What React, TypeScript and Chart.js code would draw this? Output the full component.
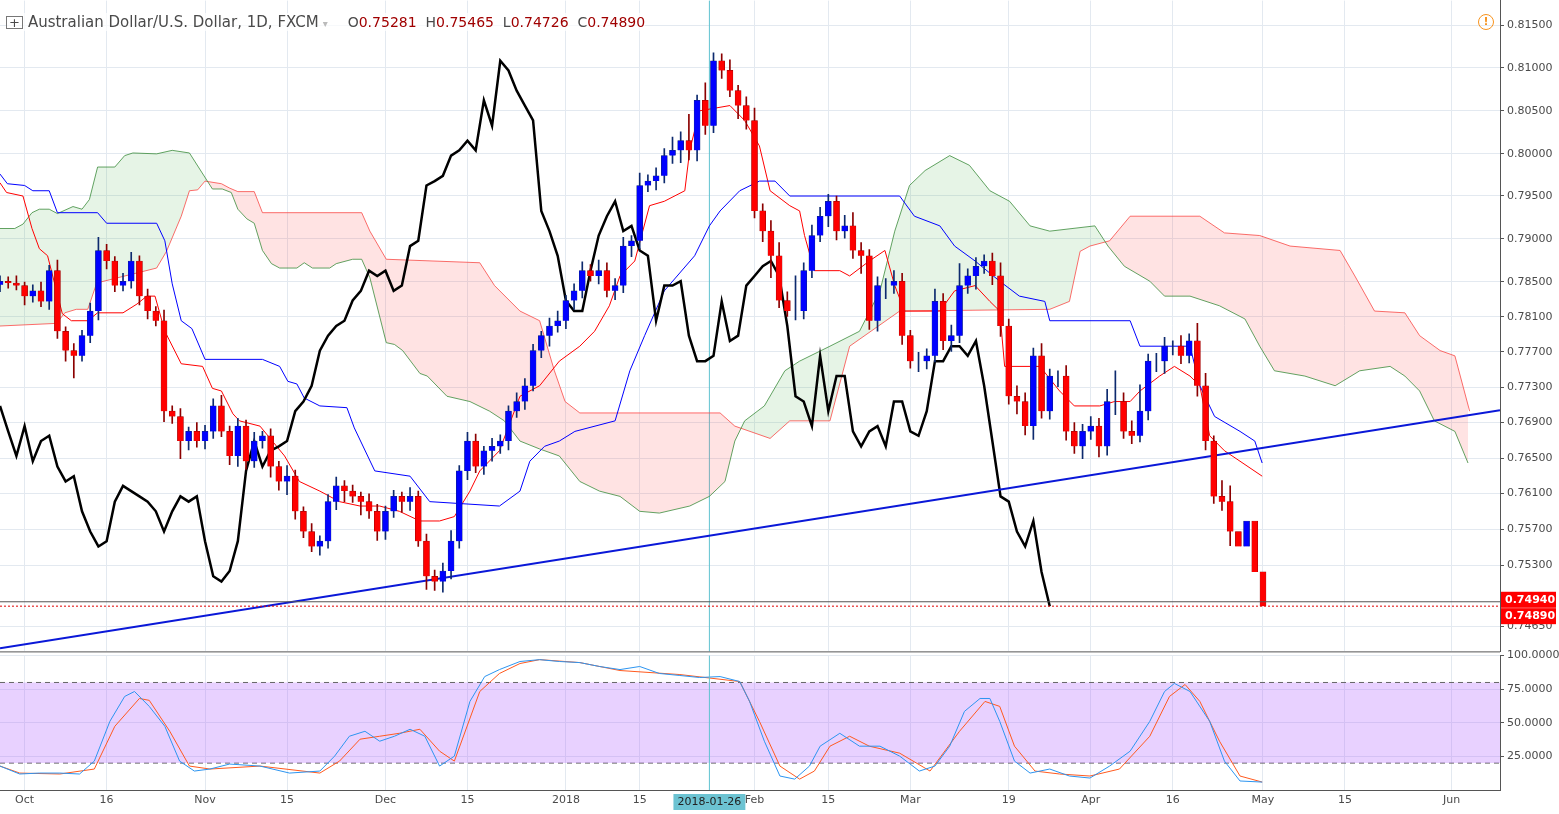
import React, { useEffect, useRef } from "react";
import { Chart, registerables } from "chart.js";
Chart.register(...registerables);

// ---- data (prices in 1e-4 units) ----
const firstBar = -3;
const firstOpen = 7855;
const closes = [7859,7857,7854,7842,7848,7836,7871,7802,7780,7774,7797,7825,7894,7882,7854,7859,7882,7842,7825,7814,7711,7705,7677,7688,7677,7688,7717,7688,7660,7694,7654,7677,7683,7648,7631,7637,7597,7574,7557,7563,7608,7626,7620,7614,7608,7597,7574,7597,7614,7608,7614,7563,7523,7517,7529,7563,7643,7677,7648,7666,7671,7677,7711,7722,7740,7780,7797,7808,7814,7837,7848,7871,7865,7871,7848,7854,7899,7905,7968,7973,7979,8002,8008,8019,8008,8065,8036,8110,8099,8076,8059,8042,7939,7916,7888,7837,7825,7825,7871,7911,7933,7950,7916,7922,7894,7888,7814,7854,7854,7859,7797,7768,7768,7774,7836,7791,7797,7854,7865,7876,7882,7865,7808,7728,7722,7694,7774,7711,7751,7751,7688,7671,7688,7694,7671,7722,7722,7688,7683,7711,7768,7768,7785,7785,7774,7791,7740,7677,7614,7608,7574,7557,7586,7528,7489];
const wickUp = [6,5,8,4,7,10,6,12,5,8,6,9,15,7,5,9,10,6,8,5,12,6,9,5,10,7,8,12,6,9,7,10,5,8,6,12,7,5,9,6,8,10,6,7,5,9,8,6,7,5,10,6,8,7,9,12,6,10,8,5,9,7,6,10,8,7,5,9,11,6,8,10,7,12,9,8,10,6,14,7,9,8,15,10,30,6,20,9,8,12,6,10,14,8,12,15,10,40,9,12,10,8,6,12,15,9,7,10,8,12,9,6,10,8,14,9,12,25,8,10,7,9,15,8,12,10,9,14,8,6,12,10,8,11,9,14,35,10,12,30,8,9,10,6,12,8,20,14,6,18,18];
const wickDn = [8,6,5,10,7,6,9,8,12,25,6,8,10,9,7,6,8,10,9,6,12,8,20,10,7,9,8,6,10,12,9,7,8,12,10,15,9,7,6,10,8,9,12,7,15,8,10,9,7,12,10,6,15,10,12,9,8,10,7,9,12,8,10,7,9,6,8,12,7,9,10,8,6,9,7,10,8,12,9,7,10,8,9,14,11,12,10,8,9,7,15,10,8,12,25,8,6,10,9,8,7,12,10,8,9,20,10,12,15,9,10,8,12,9,7,10,12,8,9,15,8,10,12,9,14,10,15,8,9,12,10,8,14,9,12,10,15,8,9,7,10,12,14,10,9,8,12,10,8,10,16];

const tenkanPts = [[-3,7971],[-2.2,7960],[-0.2,7956],[0.9,7919],[1.8,7896],[2.8,7888],[4.6,7822],[5.7,7814],[7.7,7814],[8.9,7823],[12.0,7823],[13.7,7833],[14.9,7842],[15.9,7842],[17.1,7802],[19.1,7765],[21.7,7762],[22.9,7737],[24.0,7734],[25.4,7708],[26.2,7700],[28.7,7694],[31.7,7660],[33.5,7631],[36.0,7620],[38.4,7608],[40.9,7603],[43.3,7603],[45.7,7597],[48.2,7586],[50.6,7586],[52.4,7591],[54.3,7620],[55.5,7643],[57.9,7666],[60.4,7728],[62.8,7740],[65.2,7768],[67.7,7785],[69.5,7802],[71.3,7831],[72.6,7865],[74.4,7882],[76.2,7945],[78.0,7950],[80.5,7962],[81.1,8008],[82.3,8053],[86.0,8059],[87.8,8042],[89.6,8013],[90.9,7962],[93.3,7945],[94.5,7939],[95.1,7911],[96.3,7871],[99.4,7871],[100.6,7865],[103.0,7882],[104.9,7894],[106.1,7854],[107.3,7825],[111.6,7825],[113.4,7848],[115.9,7854],[117.7,7836],[118.9,7825],[119.5,7762],[123.8,7762],[126.2,7734],[128.0,7717],[131.1,7717],[132.9,7722],[134.8,7722],[136.0,7734],[138.4,7751],[140.2,7762],[142.1,7751],[143.3,7740],[144.5,7683],[146.3,7666],[150.9,7637]];
const kijunPts = [[-3,7981],[-2.1,7970],[0,7968],[1.0,7962],[3.0,7962],[4.0,7937],[8.9,7937],[10.0,7925],[16.1,7925],[17.1,7905],[18.0,7856],[19.1,7814],[20.4,7805],[22.0,7770],[29.0,7770],[31.1,7762],[32.1,7745],[33.2,7742],[34.1,7726],[36.0,7717],[39.3,7715],[40.2,7692],[42.7,7643],[47.0,7637],[49.4,7608],[57.9,7603],[60.4,7620],[61.6,7654],[63.4,7671],[65.2,7677],[67.1,7688],[72.0,7700],[73.8,7757],[75.6,7797],[78.0,7848],[81.7,7888],[83.5,7922],[84.8,7939],[87.2,7962],[89.6,7973],[91.5,7973],[93.3,7956],[106.7,7956],[108.5,7933],[111.6,7922],[113.4,7899],[115.9,7882],[118.9,7859],[121.3,7842],[124.4,7836],[125.0,7814],[134.8,7814],[136.0,7785],[142.1,7785],[143.3,7740],[145.1,7705],[148.2,7688],[150.0,7677],[150.9,7652]];
const spanAPts = [[-3,7919],[-1.2,7919],[-0.2,7924],[0.9,7937],[1.8,7941],[3.0,7941],[4.0,7936],[5.9,7944],[7.0,7941],[7.9,7952],[8.9,7989],[11.0,7989],[12.2,8002],[13.2,8005],[16.1,8004],[18.0,8008],[20.1,8005],[22.9,7964],[24.1,7964],[25.2,7960],[26.0,7941],[27.1,7930],[28.0,7925],[29.0,7894],[30.1,7879],[31.1,7874],[33.2,7874],[34.1,7880],[35.1,7874],[37.2,7874],[38.0,7879],[40.0,7884],[41.1,7884],[42.1,7863],[44.1,7789],[45.1,7787],[46.1,7780],[48.2,7754],[49.1,7751],[51.5,7728],[54.3,7722],[56.7,7711],[58.5,7700],[60.4,7677],[62.8,7668],[65.2,7660],[67.7,7631],[70.1,7620],[72.6,7614],[75.0,7597],[77.4,7595],[81.1,7603],[83.5,7614],[85.4,7631],[86.6,7677],[87.8,7700],[90.2,7717],[92.7,7757],[94.5,7768],[98.2,7785],[101.8,7802],[104.3,7848],[106.1,7916],[107.9,7968],[109.8,7985],[112.8,8002],[115.2,7991],[117.7,7962],[120.1,7950],[122.6,7922],[125.0,7916],[130.5,7922],[132.1,7899],[134.1,7876],[137.2,7859],[139.0,7842],[142.1,7842],[145.7,7831],[148.8,7816],[150.6,7785],[152.4,7757],[156.1,7751],[159.8,7740],[162.8,7757],[166.5,7762],[168.3,7751],[170.1,7734],[171.9,7700],[174.4,7688],[176.0,7652]];
const spanBPts = [[-3,7808],[3.9,7811],[4.9,7823],[6.3,7827],[7.7,7827],[8.8,7857],[16.1,7874],[17.3,7893],[19.1,7933],[20.1,7962],[21.1,7963],[22.0,7973],[24.0,7970],[25.0,7965],[26.0,7961],[28.0,7961],[29.0,7937],[41.1,7937],[42.1,7916],[44.1,7884],[55.5,7880],[57.3,7854],[60.4,7825],[62.8,7814],[64.6,7757],[65.9,7722],[67.7,7709],[84.8,7709],[86.6,7694],[90.9,7680],[93.3,7700],[98.2,7700],[100.6,7785],[106.7,7825],[125.0,7827],[127.4,7836],[128.7,7893],[129.9,7899],[132.3,7905],[134.8,7933],[143.3,7933],[146.3,7914],[150.6,7911],[154.3,7899],[160.4,7894],[162.2,7865],[164.6,7825],[168.3,7823],[170.1,7797],[172.6,7780],[174.4,7774],[176.2,7711]];
const chikouShift = 26;
const trendPts = [[-3,7441],[179.9,7712]];
const stochK = [[-3,17.8],[-0.6,11.9],[1.8,12.6],[4.3,12.6],[6.7,11.9],[8.5,21.5],[10.4,51.1],[12.2,69.6],[13.4,73.3],[15.2,62.2],[17.1,47.4],[18.9,21.5],[20.7,14.1],[22.6,15.6],[25,19.3],[28.7,17.8],[32.3,12.6],[36,14.1],[37.8,25.2],[39.6,40],[41.5,43.7],[43.3,36.3],[45.1,40],[47,45.2],[48.8,40],[50.6,17.8],[52.4,25.2],[54.3,65.9],[56.1,84.4],[57.9,89.6],[60.4,95.6],[62.8,97],[65.2,95.6],[67.7,94.8],[70.1,91.9],[72.6,89.6],[75,91.9],[77.4,86.7],[79.9,85.2],[82.3,83.7],[84.8,84.4],[87.2,80.7],[88.4,65.9],[90.2,36.3],[92.1,10.4],[93.9,8.1],[95.7,17.8],[97,32.6],[99.4,42.2],[101.8,32.6],[104.3,32.6],[106.7,25.2],[109.1,14.1],[111,17.8],[112.8,32.6],[114.6,58.5],[116.5,68.1],[117.7,68.1],[118.9,51.1],[120.7,21.5],[122.6,12.6],[125,15.6],[127.4,10.4],[129.9,8.9],[132.3,17.8],[134.8,28.9],[137.2,51.1],[139,73.3],[140.2,79.3],[142.1,73.3],[144.5,51.1],[146.3,21.5],[148.2,6.7],[150.9,5.9]];
const stochD = [[-3,17.8],[-0.6,12.6],[4.3,11.9],[8.5,15.6],[11,47.4],[14,68.1],[15.2,66.7],[17.7,43.7],[20.1,17.8],[22.6,15.6],[28.7,17.8],[36,12.6],[38.4,21.5],[40.9,37.8],[43.3,40],[45.7,42.2],[48.2,45.2],[50.6,28.9],[52.4,21.5],[55.5,73.3],[57.9,86.7],[60.4,94.1],[62.8,97],[67.7,94.8],[72.6,88.9],[79.9,85.9],[87.2,80.7],[89.6,51.1],[92.1,17.8],[94.5,8.1],[96.3,14.1],[98.2,32.6],[100.6,40],[103,32.6],[106.7,27.4],[110.4,14.1],[114,43.7],[117.1,65.9],[118.9,62.2],[120.7,32.6],[123.2,14.1],[126.2,11.9],[129.9,10.4],[133.5,15.6],[137.2,40],[139.6,69.6],[141.5,78.5],[143.3,65.9],[145.7,36.3],[148.2,10.4],[150.9,5.9]];

const priceTickVals = [0.815,0.81021,0.80531,0.80041,0.79562,0.79072,0.78582,0.78183,0.77784,0.77385,0.76986,0.76576,0.76177,0.75767,0.75356,0.74661];
const priceTickLabels = ["0.81500","0.81000","0.80500","0.80000","0.79500","0.79000","0.78500","0.78100","0.77700","0.77300","0.76900","0.76500","0.76100","0.75700","0.75300","0.74650"];
const dateTickBars = [0,10,22,32,44,54,66,75,89,98,108,120,130,140,151,161,174];
const dateTickLabels = ["Oct","16","Nov","15","Dec","15","2018","15","Feb","15","Mar","19","Apr","16","May","15","Jun"];
const stochTicks = [25,50,75,100];
const bandHi = 80, bandLo = 20;
const lastPrice = 0.7489, linePrice = 0.7494;
const crossBar = 83.5, crossLabel = "2018-01-26";

const X_MIN = -3, X_MAX = 179.9;
const Y_MIN = 0.74375, Y_MAX = 0.81785;
const FONT = "DejaVu Sans";
const GRID = "#e3e9f0";

const pts = (a: number[][], k = 1e4) => a.map(([x, y]) => ({ x, y: y / k }));

export default function App() {
  const mainRef = useRef<HTMLCanvasElement>(null);
  const subRef = useRef<HTMLCanvasElement>(null);
  useEffect(() => {
    document.body.style.margin = "0";
    const bodies: any[] = [], wicks: any[] = [], colors: string[] = [], wcolors: string[] = [];
    closes.forEach((c, i) => {
      const o = i === 0 ? firstOpen : closes[i - 1];
      const x = firstBar + i;
      bodies.push({ x, y: [o / 1e4, c / 1e4] });
      wicks.push({ x, y: [(Math.min(o, c) - wickDn[i]) / 1e4, (Math.max(o, c) + wickUp[i]) / 1e4] });
      const up = c >= o;
      colors.push(up ? "#0000ff" : "#ff0000");
      wcolors.push(up ? "#0d2a6e" : "#8b0000");
    });
    const chikou = closes.map((c, i) => ({ x: firstBar + i - chikouShift, y: c / 1e4 })).filter(p => p.x >= X_MIN);
    const fitY = (s: any) => { s.width = 59; };
    const xTicks = (s: any) => { s.ticks = dateTickBars.map(v => ({ value: v })); };

    const mainPlugin = {
      id: "mainExtras",
      beforeDatasetsDraw(ch: any) {
        const { ctx, chartArea: a, scales } = ch;
        const x = scales.x.getPixelForValue(crossBar);
        ctx.save(); ctx.strokeStyle = "#5fc2d0"; ctx.lineWidth = 1;
        ctx.beginPath(); ctx.moveTo(x, a.top); ctx.lineTo(x, a.bottom); ctx.stroke(); ctx.restore();
      },
      afterDatasetsDraw(ch: any) {
        const { ctx, chartArea: a, scales } = ch;
        const y1 = scales.y.getPixelForValue(linePrice), y2 = scales.y.getPixelForValue(lastPrice);
        ctx.save();
        ctx.strokeStyle = "#555"; ctx.lineWidth = 1;
        ctx.beginPath(); ctx.moveTo(a.left, y1); ctx.lineTo(a.right, y1); ctx.stroke();
        ctx.strokeStyle = "#e00000"; ctx.setLineDash([2, 2]);
        ctx.beginPath(); ctx.moveTo(a.left, y2); ctx.lineTo(a.right, y2); ctx.stroke();
        ctx.restore();
      },
      afterDraw(ch: any) {
        const { ctx, chartArea: a, scales } = ch;
        ctx.save();
        ctx.font = `bold 11px ${FONT}`; ctx.textBaseline = "middle";
        [[linePrice, "0.74940"], [lastPrice, "0.74890"]].forEach(([p, t]: any, k) => {
          const y = scales.y.getPixelForValue(p) + (k === 0 ? -2 : 10);
          ctx.fillStyle = "#ff0000"; ctx.fillRect(a.right + 1, y - 8, 55, 16);
          ctx.fillStyle = "#fff"; ctx.fillText(t, a.right + 5, y);
        });
        ctx.strokeStyle = "#555"; ctx.beginPath(); ctx.moveTo(0, a.bottom + 0.5); ctx.lineTo(a.right, a.bottom + 0.5); ctx.stroke();
        ctx.restore();
      },
    };

    const main = new Chart(mainRef.current!, {
      type: "bar",
      data: {
        datasets: [
          { type: "line", data: pts(spanAPts), borderColor: "rgba(60,140,60,0.8)", borderWidth: 1, pointRadius: 0,
            fill: { target: "+1", above: "rgba(76,175,80,0.14)", below: "rgba(255,82,82,0.16)" }, order: 10 } as any,
          { type: "line", data: pts(spanBPts), borderColor: "rgba(255,70,70,0.8)", borderWidth: 1, pointRadius: 0, fill: false, order: 10 } as any,
          { type: "line", data: pts(kijunPts), borderColor: "#0000ff", borderWidth: 1, pointRadius: 0, order: 6 } as any,
          { type: "line", data: pts(tenkanPts), borderColor: "#ff0000", borderWidth: 1, pointRadius: 0, order: 6 } as any,
          { type: "line", data: chikou, borderColor: "#000", borderWidth: 2.5, pointRadius: 0, order: 5 } as any,
          { type: "line", data: pts(trendPts), borderColor: "#0a18d8", borderWidth: 2, pointRadius: 0, order: 4 } as any,
          { type: "bar", data: wicks, backgroundColor: wcolors, barThickness: 1, grouped: false, order: 2 } as any,
          { type: "bar", data: bodies, backgroundColor: colors, borderColor: wcolors, borderWidth: 0.5, barThickness: 6, grouped: false, order: 1 } as any,
        ],
      },
      options: {
        animation: false, responsive: false, events: [],
        layout: { padding: 0 },
        plugins: { legend: { display: false }, tooltip: { enabled: false } },
        scales: {
          x: { type: "linear", offset: false, min: X_MIN, max: X_MAX, afterBuildTicks: xTicks,
            ticks: { display: false }, grid: { color: GRID, drawTicks: false, offset: false }, border: { display: false } },
          y: { position: "right", min: Y_MIN, max: Y_MAX, afterFit: fitY,
            afterBuildTicks: (s: any) => { s.ticks = priceTickVals.map(v => ({ value: v })); },
            ticks: { callback: (_v: any, i: number) => priceTickLabels[i], color: "#4a4a4a", font: { family: FONT, size: 11 }, padding: 3 },
            grid: { color: GRID, tickLength: 4, tickColor: "#555" }, border: { display: true, color: "#555" } },
        },
      } as any,
      plugins: [mainPlugin],
    });

    const subPlugin = {
      id: "subExtras",
      afterDraw(ch: any) {
        const { ctx, chartArea: a, scales } = ch;
        const x = scales.x.getPixelForValue(crossBar);
        ctx.save();
        ctx.strokeStyle = "#5fc2d0"; ctx.beginPath(); ctx.moveTo(x, a.top); ctx.lineTo(x, a.bottom); ctx.stroke();
        ctx.font = `11px ${FONT}`; const w = ctx.measureText(crossLabel).width + 8;
        ctx.fillStyle = "#6cc3d2"; ctx.fillRect(x - w / 2, a.bottom + 4, w, 16);
        ctx.fillStyle = "#222"; ctx.textAlign = "center"; ctx.textBaseline = "middle"; ctx.fillText(crossLabel, x, a.bottom + 12);
        ctx.strokeStyle = "#555"; ctx.beginPath(); ctx.moveTo(0, a.bottom + 0.5); ctx.lineTo(a.right, a.bottom + 0.5); ctx.stroke();
        ctx.restore();
      },
    };
    const band = (v: number) => [{ x: X_MIN, y: v }, { x: X_MAX, y: v }];
    const sub = new Chart(subRef.current!, {
      type: "line",
      data: {
        datasets: [
          { data: band(bandHi), borderColor: "#666", borderWidth: 1, borderDash: [5, 4], pointRadius: 0, fill: "+1", backgroundColor: "rgba(178,102,255,0.3)", order: 5 },
          { data: band(bandLo), borderColor: "#666", borderWidth: 1, borderDash: [5, 4], pointRadius: 0, fill: false, order: 5 },
          { data: pts(stochD, 1), borderColor: "#ff5a1f", borderWidth: 1, pointRadius: 0, order: 2 },
          { data: pts(stochK, 1), borderColor: "#2d95f0", borderWidth: 1, pointRadius: 0, order: 1 },
        ] as any,
      },
      options: {
        animation: false, responsive: false, events: [],
        layout: { padding: 0 },
        plugins: { legend: { display: false }, tooltip: { enabled: false } },
        scales: {
          x: { type: "linear", min: X_MIN, max: X_MAX, afterBuildTicks: xTicks, afterFit: (s: any) => { s.height = 24; },
            ticks: { callback: (v: any) => dateTickLabels[dateTickBars.indexOf(v)] ?? "", color: "#4a4a4a", font: { family: FONT, size: 11 }, maxRotation: 0, autoSkip: false, padding: 4 },
            grid: { color: GRID, drawTicks: false }, border: { display: false } },
          y: { position: "right", min: 0, max: 100, afterFit: fitY,
            afterBuildTicks: (s: any) => { s.ticks = stochTicks.map(v => ({ value: v })); },
            ticks: { callback: (v: any) => Number(v).toFixed(4), color: "#4a4a4a", font: { family: FONT, size: 11 }, padding: 3 },
            grid: { color: GRID, tickLength: 4, tickColor: "#555" }, border: { display: true, color: "#555" } },
        },
      } as any,
      plugins: [subPlugin],
    });
    return () => { main.destroy(); sub.destroy(); };
  }, []);

  return (
    <div style={{ position: "relative", width: 1559, height: 814, background: "#fff", fontFamily: FONT, overflow: "hidden" }}>
      <canvas ref={subRef} width={1559} height={168} style={{ position: "absolute", left: 0, top: 646, width: 1559, height: 168 }} />
      <canvas ref={mainRef} width={1559} height={670} style={{ position: "absolute", left: 0, top: -9, width: 1559, height: 670 }} />
      <div style={{ position: "absolute", left: 6, top: 13, fontSize: 15, color: "#4a4a4a", whiteSpace: "nowrap", background: "rgba(255,255,255,0.7)" }}>
        <span style={{ fontSize: 13, border: "1px solid #777", padding: "0 2px", marginRight: 5, lineHeight: "11px", display: "inline-block" }}>+</span>
        Australian Dollar/U.S. Dollar, 1D, FXCM
        <span style={{ color: "#bbb", fontSize: 10, margin: "0 20px 0 4px" }}>▾</span>
        <span style={{ fontSize: 14 }}>O<span style={{ color: "#a00000" }}>0.75281</span>&nbsp; H<span style={{ color: "#a00000" }}>0.75465</span>&nbsp; L<span style={{ color: "#a00000" }}>0.74726</span>&nbsp; C<span style={{ color: "#a00000" }}>0.74890</span></span>
      </div>
      <div style={{ position: "absolute", left: 1478, top: 14, width: 14, height: 14, borderRadius: 8, border: "1.5px solid #f7931e", color: "#f7931e", fontSize: 11, textAlign: "center", lineHeight: "14px", fontWeight: "bold" }}>!</div>
    </div>
  );
}
